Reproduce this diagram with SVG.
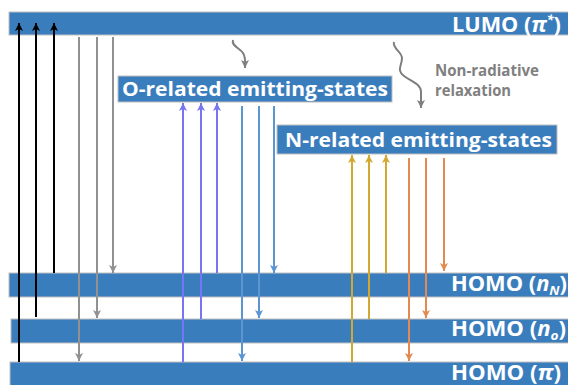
<svg xmlns="http://www.w3.org/2000/svg" width="568" height="385" viewBox="0 0 568 385">
<style>
.bar{fill:#3A7DBD;stroke:#BFBFBF;stroke-width:1}
.lbl{font-family:"Open Sans","Noto Sans",sans-serif;font-weight:bold;fill:#fff}
.note{font-family:"Open Sans","Noto Sans",sans-serif;font-weight:bold;fill:#808080;font-size:16px}
.c{fill:none;stroke-width:2}
.k{stroke:#000}.g{stroke:#919191}.p{stroke:#7676F2}.b{stroke:#5B96D2}.y{stroke:#D3A832}.o{stroke:#E28A52}.w{stroke:#7F7F7F}
</style>
<defs>
<marker id="mk" viewBox="0 0 8 8" refX="8" refY="4" markerWidth="8" markerHeight="8" markerUnits="userSpaceOnUse" orient="auto"><path d="M0,0 L8,4 L0,8 L2,4 z" fill="#000"/></marker>
<marker id="mg" viewBox="0 0 8 8" refX="8" refY="4" markerWidth="8" markerHeight="8" markerUnits="userSpaceOnUse" orient="auto"><path d="M0,0 L8,4 L0,8 L2,4 z" fill="#919191"/></marker>
<marker id="mp" viewBox="0 0 8 8" refX="8" refY="4" markerWidth="8" markerHeight="8" markerUnits="userSpaceOnUse" orient="auto"><path d="M0,0 L8,4 L0,8 L2,4 z" fill="#7676F2"/></marker>
<marker id="mb" viewBox="0 0 8 8" refX="8" refY="4" markerWidth="8" markerHeight="8" markerUnits="userSpaceOnUse" orient="auto"><path d="M0,0 L8,4 L0,8 L2,4 z" fill="#5B96D2"/></marker>
<marker id="my" viewBox="0 0 8 8" refX="8" refY="4" markerWidth="8" markerHeight="8" markerUnits="userSpaceOnUse" orient="auto"><path d="M0,0 L8,4 L0,8 L2,4 z" fill="#D3A832"/></marker>
<marker id="mo" viewBox="0 0 8 8" refX="8" refY="4" markerWidth="8" markerHeight="8" markerUnits="userSpaceOnUse" orient="auto"><path d="M0,0 L8,4 L0,8 L2,4 z" fill="#E28A52"/></marker>
<marker id="mw" viewBox="0 0 8 8" refX="8" refY="4" markerWidth="8" markerHeight="8" markerUnits="userSpaceOnUse" orient="auto"><path d="M0,0 L8,4 L0,8 L2,4 z" fill="#7F7F7F"/></marker>
</defs>
<rect width="568" height="385" fill="#fff"/>

<g id="lumo">
<rect class="bar" x="9" y="12" width="565" height="23"/>
<text class="lbl" x="452" y="32" font-size="21" textLength="109" lengthAdjust="spacingAndGlyphs">LUMO (<tspan font-style="italic">π</tspan><tspan font-style="italic" font-size="12" dy="-8">*</tspan><tspan dy="8">)</tspan></text>
</g>
<g id="homo-nN">
<rect class="bar" x="9" y="273" width="565" height="24"/>
<text class="lbl" x="451" y="291" font-size="21" textLength="116" lengthAdjust="spacingAndGlyphs">HOMO (<tspan font-style="italic">n</tspan><tspan font-style="italic" font-size="13" dy="4">N</tspan><tspan dy="-4">)</tspan></text>
</g>
<g id="homo-no">
<rect class="bar" x="11" y="319" width="563" height="24"/>
<text class="lbl" x="451" y="336" font-size="21" textLength="115" lengthAdjust="spacingAndGlyphs">HOMO (<tspan font-style="italic">n</tspan><tspan font-style="italic" font-size="13" dy="4">o</tspan><tspan dy="-4">)</tspan></text>
</g>
<g id="homo-pi">
<rect class="bar" x="10" y="362" width="564" height="30"/>
<text class="lbl" x="451" y="380" font-size="21" textLength="110" lengthAdjust="spacingAndGlyphs">HOMO (<tspan font-style="italic">π</tspan>)</text>
</g>
<g id="o-states">
<rect class="bar" x="118" y="76" width="274" height="26"/>
<text class="lbl" x="122" y="96" font-size="20" textLength="266" lengthAdjust="spacingAndGlyphs">O-related emitting-states</text>
</g>
<g id="n-states">
<rect class="bar" x="277" y="125" width="280" height="29"/>
<text class="lbl" x="285" y="147" font-size="20" textLength="267" lengthAdjust="spacingAndGlyphs">N-related emitting-states</text>
</g>
<g id="note">
<text class="note" x="435" y="76" textLength="104" lengthAdjust="spacingAndGlyphs">Non-radiative</text>
<text class="note" x="435" y="96" textLength="76" lengthAdjust="spacingAndGlyphs">relaxation</text>
</g>

<g id="connectors">
<line class="c k" x1="19" y1="362" x2="19" y2="23" marker-end="url(#mk)"/>
<line class="c k" x1="36" y1="317" x2="36" y2="23" marker-end="url(#mk)"/>
<line class="c k" x1="54" y1="273" x2="54" y2="23" marker-end="url(#mk)"/>

<line class="c g" x1="79" y1="37" x2="79" y2="361" marker-end="url(#mg)"/>
<line class="c g" x1="97" y1="37" x2="97" y2="318" marker-end="url(#mg)"/>
<line class="c g" x1="113" y1="37" x2="113" y2="273" marker-end="url(#mg)"/>

<line class="c p" x1="183" y1="362" x2="183" y2="103" marker-end="url(#mp)"/>
<line class="c p" x1="201" y1="319" x2="201" y2="103" marker-end="url(#mp)"/>
<line class="c p" x1="217" y1="273" x2="217" y2="103" marker-end="url(#mp)"/>

<line class="c b" x1="242" y1="106" x2="242" y2="361" marker-end="url(#mb)"/>
<line class="c b" x1="259" y1="106" x2="259" y2="318" marker-end="url(#mb)"/>
<line class="c b" x1="274" y1="106" x2="274" y2="273" marker-end="url(#mb)"/>

<line class="c y" x1="352" y1="362" x2="352" y2="155" marker-end="url(#my)"/>
<line class="c y" x1="369" y1="319" x2="369" y2="155" marker-end="url(#my)"/>
<line class="c y" x1="386" y1="273" x2="386" y2="155" marker-end="url(#my)"/>

<line class="c o" x1="409" y1="158" x2="409" y2="361" marker-end="url(#mo)"/>
<line class="c o" x1="426" y1="158" x2="426" y2="318" marker-end="url(#mo)"/>
<line class="c o" x1="444" y1="158" x2="444" y2="271" marker-end="url(#mo)"/>

<path class="c w" d="M233,40 C231,46 240,48 243,53 C246,58 245,62 245,68" marker-end="url(#mw)"/>
<path class="c w" d="M394,42 C392,48 402,52 402,58 C402,66 396,70 404,76 C412,82 421,84 421,92 L421,108" marker-end="url(#mw)"/>
</g>
</svg>
